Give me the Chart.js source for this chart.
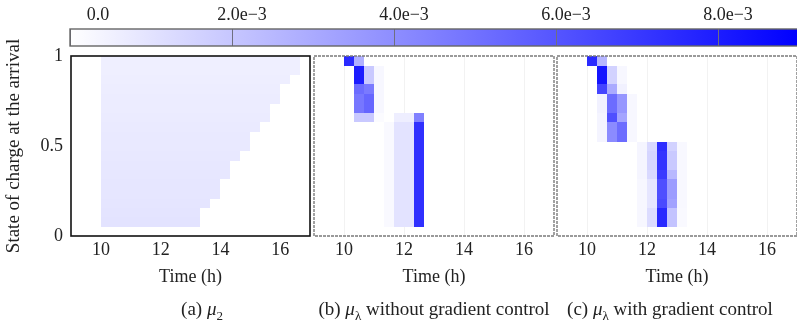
<!DOCTYPE html>
<html>
<head>
<meta charset="utf-8">
<script src="https://cdn.jsdelivr.net/npm/chart.js@4.4.1/dist/chart.umd.min.js"></script>
<style>
  html, body { margin: 0; padding: 0; background: #fff; overflow: hidden; }
  #wrap { position: relative; width: 797px; height: 322px; overflow: hidden; }
  canvas { position: absolute; left: 0; top: 0; }
  .cap { position: absolute; top: 300px; font-family: "Liberation Serif", serif; font-size: 19px;
         line-height: 17px; color: #222; white-space: nowrap; transform: translateX(-50%); }
  .cap sub { font-size: 13px; line-height: 0; }
</style>
</head>
<body>
<div id="wrap">
  <canvas id="cbar" width="810" height="60"></canvas>
  <canvas id="p1" width="797" height="300"></canvas>
  <canvas id="p2" width="797" height="300"></canvas>
  <canvas id="p3" width="797" height="300"></canvas>
  <div class="cap" style="left:202px">(a) <i>μ</i><sub>2</sub></div>
  <div class="cap" style="left:434px">(b) <i>μ</i><sub>λ</sub> without gradient control</div>
  <div class="cap" style="left:670px">(c) <i>μ</i><sub>λ</sub> with gradient control</div>
</div>
<script>
// grilles : heure d'arrivée (h) et état de charge
const timeEdges = [10, 10.333, 10.667, 11, 11.333, 11.667, 12, 12.333, 12.667, 13, 13.333,
  13.667, 14, 14.333, 14.667, 15, 15.333, 15.667, 16, 16.333, 16.667];
const socEdges = [0.05, 0.103, 0.156, 0.208, 0.261, 0.314, 0.367, 0.419, 0.472, 0.525,
  0.578, 0.631, 0.683, 0.736, 0.789, 0.842, 0.894, 0.947, 1.0];

const timeTicks = [10, 12, 14, 16];
const socTicks = [0, 0.5, 1];
const socLabels = ["0", "0.5", "1"];
const cbarTicks = [0, 2, 4, 6, 8];          // x1e-3
const cbarLabels = ["0.0", "2.0e\u22123", "4.0e\u22123", "6.0e\u22123", "8.0e\u22123"];
const vMax = 9;                              // x1e-3, bleu pur

// (a) mu2 : nb de colonnes remplies par ligne (bas -> haut) et valeur (x1e-3)
const mu2Cols = [10, 10, 11, 12, 12, 13, 13, 14, 15, 15, 16, 17, 17, 18, 18, 19, 20, 20];
const mu2Vals = [0.98, 0.96, 0.93, 0.9, 0.88, 0.86, 0.84, 0.81, 0.78, 0.76, 0.73, 0.7, 0.68,
  0.66, 0.63, 0.6, 0.57, 0.55];

// (b) mu_lambda sans contrôle : [colonne, ligne, valeur x1e-3]
const noCtrl = [
  [0, 17, 7.5], [1, 17, 2.8],
  [1, 16, 8.0], [2, 16, 1.9], [3, 16, 0.3],
  [1, 15, 8.0], [2, 15, 1.9], [3, 15, 0.3],
  [1, 14, 5.2], [2, 14, 4.7], [3, 14, 0.3],
  [1, 13, 4.8], [2, 13, 5.4], [3, 13, 0.3],
  [1, 12, 4.8], [2, 12, 5.4], [3, 12, 0.3],
  [1, 11, 1.9], [2, 11, 1.9], [3, 11, 0.15],
  [5, 11, 0.6], [6, 11, 0.6], [7, 11, 4.5],
  [4, 10, 0.2], [5, 10, 1.0], [6, 10, 1.0], [7, 10, 7.3],
  [4, 9, 0.2], [5, 9, 1.0], [6, 9, 1.0], [7, 9, 7.3],
  [4, 8, 0.2], [5, 8, 1.0], [6, 8, 1.0], [7, 8, 7.3],
  [4, 7, 0.2], [5, 7, 1.0], [6, 7, 1.0], [7, 7, 7.3],
  [4, 6, 0.2], [5, 6, 1.0], [6, 6, 1.0], [7, 6, 7.3],
  [4, 5, 0.2], [5, 5, 1.0], [6, 5, 1.0], [7, 5, 7.3],
  [4, 4, 0.2], [5, 4, 1.0], [6, 4, 1.0], [7, 4, 7.3],
  [4, 3, 0.2], [5, 3, 1.0], [6, 3, 1.0], [7, 3, 7.3],
  [4, 2, 0.2], [5, 2, 1.0], [6, 2, 1.0], [7, 2, 7.3],
  [4, 1, 0.2], [5, 1, 1.0], [6, 1, 1.0], [7, 1, 7.3],
  [4, 0, 0.2], [5, 0, 1.0], [6, 0, 1.0], [7, 0, 7.3]
];

// (c) mu_lambda avec contrôle
const withCtrl = [
  [0, 17, 7.5], [1, 17, 2.6],
  [1, 16, 8.3], [2, 16, 1.6], [3, 16, 0.3],
  [1, 15, 8.3], [2, 15, 1.6], [3, 15, 0.3],
  [1, 14, 6.6], [2, 14, 3.0], [3, 14, 0.5],
  [1, 13, 0.5], [2, 13, 5.2], [3, 13, 3.7], [4, 13, 0.3],
  [1, 12, 0.5], [2, 12, 5.2], [3, 12, 3.7], [4, 12, 0.3],
  [1, 11, 0.4], [2, 11, 6.2], [3, 11, 3.2], [4, 11, 0.3],
  [1, 10, 0.4], [2, 10, 4.1], [3, 10, 5.2], [4, 10, 0.3],
  [1, 9, 0.4], [2, 9, 4.1], [3, 9, 5.2], [4, 9, 0.3],
  [5, 8, 0.35], [6, 8, 1.35], [7, 8, 7.4], [8, 8, 1.6], [9, 8, 0.25],
  [5, 7, 0.35], [6, 7, 1.5], [7, 7, 7.2], [8, 7, 1.9], [9, 7, 0.25],
  [5, 6, 0.35], [6, 6, 1.5], [7, 6, 7.2], [8, 6, 1.9], [9, 6, 0.25],
  [5, 5, 0.35], [6, 5, 1.35], [7, 5, 6.9], [8, 5, 2.5], [9, 5, 0.25],
  [5, 4, 0.3], [6, 4, 0.9], [7, 4, 6.2], [8, 4, 3.5], [9, 4, 0.25],
  [5, 3, 0.3], [6, 3, 0.9], [7, 3, 6.2], [8, 3, 3.5], [9, 3, 0.25],
  [5, 2, 0.3], [6, 2, 0.9], [7, 2, 6.4], [8, 2, 3.3], [9, 2, 0.25],
  [5, 1, 0.3], [6, 1, 1.25], [7, 1, 7.6], [8, 1, 2.1], [9, 1, 0.2],
  [5, 0, 0.3], [6, 0, 1.25], [7, 0, 7.6], [8, 0, 2.1], [9, 0, 0.2]
];

const mu2Cells = [];
mu2Cols.forEach((n, r) => {
  for (let c = 0; c < n; c++) mu2Cells.push([c, r, mu2Vals[r]]);
});

const serif = "'Liberation Serif', 'Times New Roman', serif";
const txt = "#222";

function cellColor(v) {
  const t = Math.min(v / vMax, 1);
  const c = Math.round(255 * (1 - t));
  return `rgb(${c},${c},255)`;
}

function makeHeat(cells) {
  return {
    id: "heat",
    beforeDatasetsDraw(chart) {
      const { ctx, chartArea: a, scales: { x, y } } = chart;
      ctx.save();
      ctx.beginPath();
      ctx.rect(a.left, a.top, a.width, a.height);
      ctx.clip();
      cells.forEach(([c, r, v]) => {
        const x0 = Math.round(x.getPixelForValue(timeEdges[c]));
        const x1 = Math.round(x.getPixelForValue(timeEdges[c + 1]));
        const y0 = Math.round(y.getPixelForValue(socEdges[r]));
        const y1 = Math.round(y.getPixelForValue(socEdges[r + 1]));
        ctx.fillStyle = cellColor(v);
        ctx.fillRect(x0, y1, x1 - x0, y0 - y1);
      });
      ctx.restore();
    }
  };
}

function makeFrame(color, width, dash) {
  return {
    id: "frame",
    afterDatasetsDraw(chart) {
      const { ctx, chartArea: a } = chart;
      ctx.save();
      ctx.strokeStyle = color;
      ctx.lineWidth = width;
      ctx.setLineDash(dash);
      ctx.strokeRect(a.left, a.top, a.width, a.height);
      ctx.restore();
    }
  };
}

function panel(id, cells, padL, padR, showY, frame, gridColor) {
  new Chart(document.getElementById(id), {
    type: "scatter",
    data: { datasets: [{ data: [] }] },
    options: {
      responsive: false,
      animation: false,
      events: [],
      layout: { padding: { left: padL, right: padR, top: 56, bottom: 8 } },
      plugins: { legend: { display: false }, tooltip: { enabled: false } },
      scales: {
        x: {
          type: "linear", min: 9, max: 17,
          afterBuildTicks: (s) => { s.ticks = timeTicks.map((v) => ({ value: v })); },
          afterFit: (s) => { s.height = 56; },
          ticks: { padding: 3, color: txt, font: { family: serif, size: 18 }, callback: (v) => String(v) },
          grid: { display: !!gridColor, color: gridColor || "transparent", drawTicks: false },
          border: { display: false },
          title: { display: true, text: "Time (h)", color: txt, font: { family: serif, size: 18 },
                   padding: { top: 0, bottom: 4 } }
        },
        y: {
          type: "linear", min: 0, max: 1, display: showY,
          afterBuildTicks: (s) => { s.ticks = socTicks.map((v) => ({ value: v })); },
          afterFit: (s) => { s.width = showY ? 71 : 0; },
          ticks: { padding: 8, color: txt, font: { family: serif, size: 18 },
                   callback: (v, i) => socLabels[i] },
          grid: { display: false, drawTicks: false },
          border: { display: false },
          title: { display: showY, text: "State of charge at the arrival", color: txt,
                   font: { family: serif, size: 19 }, padding: { top: 3, bottom: 0 } }
        }
      }
    },
    plugins: [makeHeat(cells), makeFrame(frame[0], frame[1], frame[2])]
  });
}

panel("p1", mu2Cells, 0, 487, true, ["#111", 1.6, []], null);
panel("p2", noCtrl, 314, 243, false, ["#7a7a7a", 1.4, [3, 1]], "rgba(0,0,0,0.05)");
panel("p3", withCtrl, 557, 0, false, ["#7a7a7a", 1.4, [3, 1]], "rgba(0,0,0,0.05)");

// barre de couleur
const gradientPlugin = {
  id: "grad",
  beforeDraw(chart) {
    const { ctx, chartArea: a, scales: { x } } = chart;
    const g = ctx.createLinearGradient(x.getPixelForValue(0), 0, x.getPixelForValue(vMax), 0);
    g.addColorStop(0, cellColor(0));
    g.addColorStop(1, cellColor(vMax));
    ctx.save();
    ctx.fillStyle = g;
    ctx.fillRect(a.left, a.top, a.width, a.height);
    ctx.restore();
  }
};

new Chart(document.getElementById("cbar"), {
  type: "scatter",
  data: { datasets: [{ data: [] }] },
  options: {
    responsive: false,
    animation: false,
    events: [],
    layout: { padding: { left: 70, right: 11, top: 0, bottom: 14 } },
    plugins: { legend: { display: false }, tooltip: { enabled: false } },
    scales: {
      x: {
        type: "linear", position: "top", min: 0, max: vMax,
        afterBuildTicks: (s) => { s.ticks = cbarTicks.map((v) => ({ value: v })); },
        afterFit: (s) => { s.height = 29; },
        ticks: { padding: 3, labelOffset: 10, color: txt, font: { family: serif, size: 18 },
                 callback: (v, i) => (i === 0 ? "        " : "") + cbarLabels[i] },
        grid: { color: "#6f6f80", lineWidth: 1, drawTicks: false },
        border: { display: false }
      },
      y: { display: false, min: 0, max: 1 }
    }
  },
  plugins: [gradientPlugin, makeFrame("#666", 1.4, [])]
});
</script>
</body>
</html>
